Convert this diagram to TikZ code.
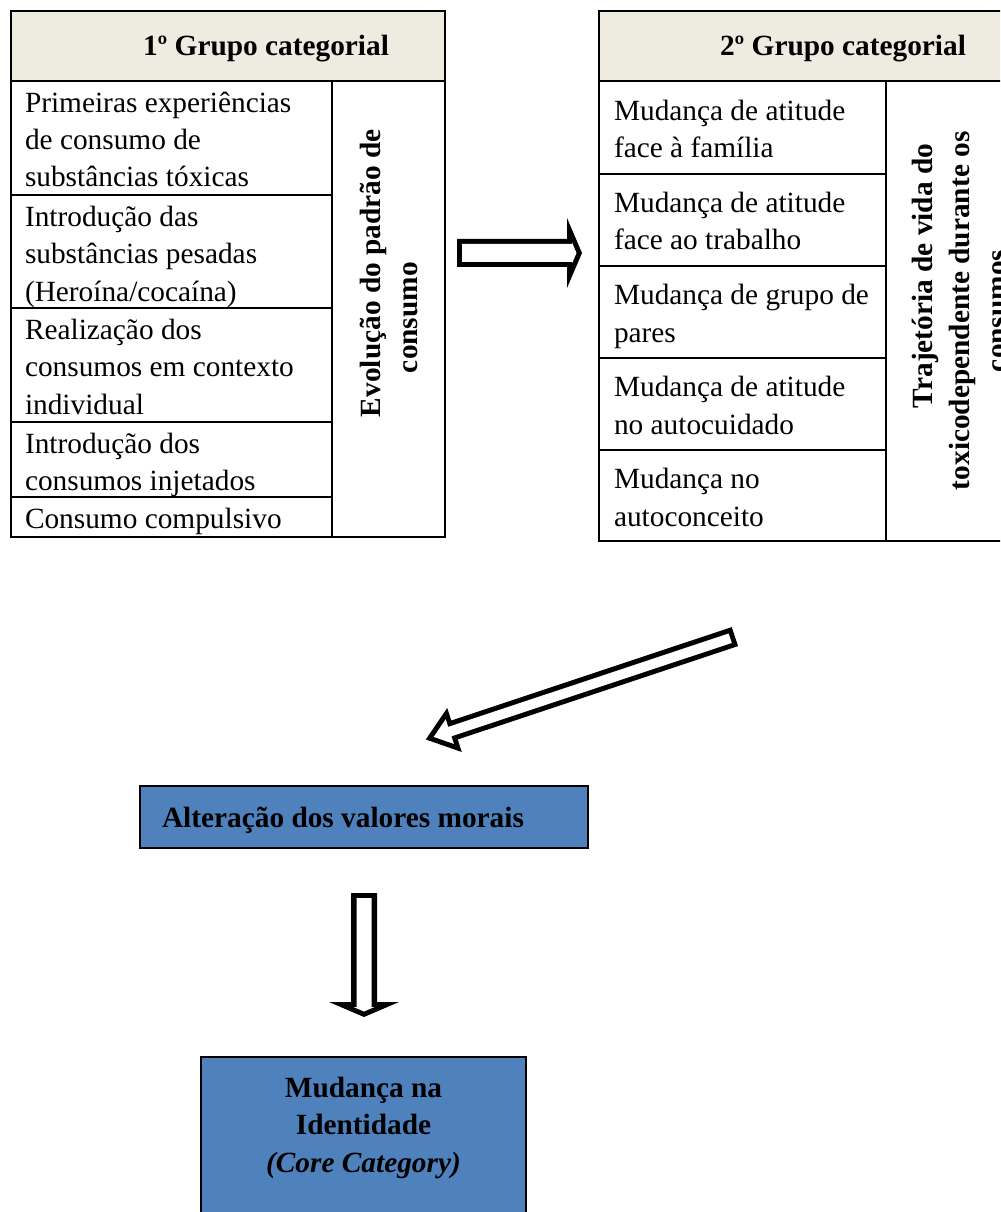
\documentclass[tikz,border=0pt]{standalone}
\usepackage{fontspec}
\setmainfont{Liberation Serif}
\definecolor{hdr}{HTML}{EEECE1}
\definecolor{blu}{HTML}{4F81BD}
\begin{document}
\begin{tikzpicture}[x=0.75pt,y=-0.75pt,
  txt/.style={font=\fontsize{22pt}{28.1pt}\selectfont, inner sep=0pt, outer sep=0pt, anchor=base west, align=left},
  txtb/.style={txt, font=\fontsize{22pt}{28.1pt}\selectfont\bfseries},
  vtxt/.style={font=\fontsize{22pt}{28.1pt}\selectfont\bfseries, inner sep=0pt, outer sep=0pt, rotate=90, anchor=base west},
  gridline/.style={line width=1.3pt, line cap=rect},
  bluebox/.style={draw=black, line width=1.6pt, fill=blu}]
\useasboundingbox (0,0) rectangle (1000,1212);
\clip (0,0) rectangle (1000,1212);
\fill[white] (0,0) rectangle (1000,1212);

% ---------- Table 1 ----------
\fill[hdr] (11,11) rectangle (445,81);
\draw[gridline] (11,11) rectangle (445,537);
\draw[gridline] (11,81) -- (445,81);
\draw[gridline] (332,81) -- (332,537);
\foreach \yy in {195,308,422,497} \draw[gridline] (11,\yy) -- (332,\yy);
\node[txtb] (h1) at (143,56) {1º Grupo categorial};
% anchor = baseline of the last line
\node[txt] (a1) at (25,187) {Primeiras experiências\\de consumo de\\substâncias tóxicas};
\node[txt] (a2) at (25,301) {Introdução das\\substâncias pesadas\\(Heroína/cocaína)};
\node[txt] (a3) at (25,414) {Realização dos\\consumos em contexto\\individual};
\node[txt] (a4) at (25,490.5) {Introdução dos\\consumos injetados};
\node[txt] (a5) at (25,528) {Consumo compulsivo};
\node[vtxt] (v1a) at (380,417) {Evolução do padrão de};
\node[vtxt] (v1b) at (417,373) {consumo};

% ---------- Table 2 ----------
\fill[hdr] (599,11) rectangle (1030,81);
\draw[gridline] (1030,11) -- (599,11) -- (599,541) -- (1030,541);
\draw[gridline] (599,81) -- (1030,81);
\draw[gridline] (886,81) -- (886,541);
\foreach \yy in {174,266,358,450} \draw[gridline] (599,\yy) -- (886,\yy);
\node[txtb] (h2) at (720,56) {2º Grupo categorial};
\node[txt] (b1) at (614,158) {Mudança de atitude\\face à família};
\node[txt] (b2) at (614,250) {Mudança de atitude\\face ao trabalho};
\node[txt] (b3) at (614,342) {Mudança de grupo de\\pares};
\node[txt] (b4) at (614,434) {Mudança de atitude\\no autocuidado};
\node[txt] (b5) at (614,526) {Mudança no\\autoconceito};
\node[vtxt] (v2a) at (932,408) {Trajetória de vida do};
\node[vtxt] (v2b) at (969,490) {toxicodependente durante os};
\node[vtxt] (v2c) at (1006,372) {consumos};

% ---------- Block arrows ----------
% right arrow
\fill[black] (457,239) -- (567,239) -- (567,218) -- (582,253) -- (567,288) -- (567,267) -- (457,267) -- cycle;
\fill[white] (462,244) -- (572,244) -- (572,242.5) -- (576.5,253) -- (572,263.5) -- (572,262) -- (462,262) -- cycle;
% diagonal arrow
\fill[black] (451.3,720.5) -- (731.7,627.1) -- (738.1,646.1) -- (457.7,739.5) -- (461.8,752) -- (425.8,739.5) -- (447.2,708) -- cycle;
\fill[white] (728.6,633.5) -- (448.2,726.9) -- (445.7,719.3) -- (433.7,736.9) -- (453.9,743.9) -- (451.4,736.3) -- (731.8,642.9) -- cycle;
% down arrow
\fill[black] (351,893) -- (377,893) -- (377,1002) -- (399,1002) -- (364,1017) -- (329,1002) -- (351,1002) -- cycle;
\fill[white] (356.5,898) -- (371.5,898) -- (371.5,1007) -- (374.5,1007) -- (364,1011.5) -- (353.5,1007) -- (356.5,1007) -- cycle;

% ---------- Blue boxes ----------
\draw[bluebox] (140,786) rectangle (588,848);
\node[txtb] (alt) at (162,827) {Alteração dos valores morais};
\draw[bluebox] (201,1057) rectangle (526,1240);
\node[txtb, anchor=base, align=center] (core) at (363.5,1172) {Mudança na\\Identidade\\\textit{(Core Category)}};
\end{tikzpicture}
\end{document}
